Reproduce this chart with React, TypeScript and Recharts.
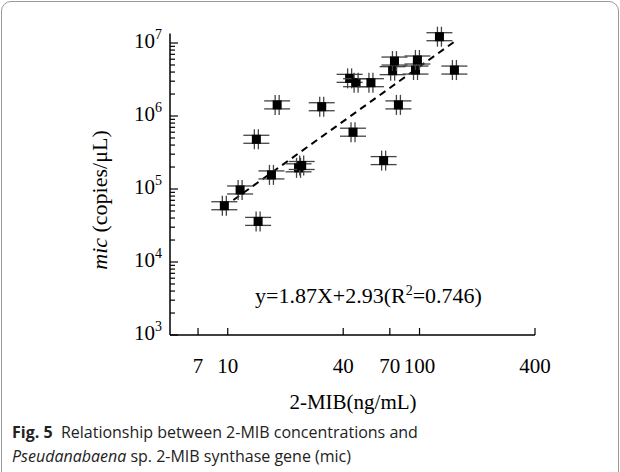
import React from 'react'
import { ScatterChart, Scatter, XAxis, YAxis } from 'recharts'

// 2-MIB concentration (ng/mL) vs mic gene copies per uL
const mibConc = [9.6, 11.6, 14.4, 14.1, 16.9, 18.1, 23.4, 24.3, 30.9, 43.2, 46.7, 55.8, 45, 65, 72.4, 74, 77.6, 95.3, 97.5, 127, 152]
const micCopies = [5.9e4, 9.7e4, 3.6e4, 4.8e5, 1.56e5, 1.42e6, 1.95e5, 2.1e5, 1.34e6, 3.28e6, 2.86e6, 2.86e6, 6.0e5, 2.45e5, 4.18e6, 5.66e6, 1.42e6, 4.26e6, 5.85e6, 1.22e7, 4.26e6]

// ends of the dashed fit line
const fitConc = [10.7, 154]
const fitCopies = [7.06e4, 1.07e7]

const xTicks = [7, 10, 40, 70, 100, 400]
const yMajor = [1e3, 1e4, 1e5, 1e6, 1e7]
const yTicks = [1e3, 1e4, 1e5, 1e6].flatMap((d) => [1, 2, 3, 4, 5, 6, 7, 8, 9].map((m) => m * d)).concat([1e7])

const points = mibConc.map((x, i) => ({ x, y: micCopies[i] }))
const fit = fitConc.map((x, i) => ({ x, y: fitCopies[i] }))

const SERIF = '"Liberation Serif", "DejaVu Serif", serif'
const SANS = '"Open Sans", "Noto Sans", sans-serif'

function Marker(props: any) {
  const { cx, cy } = props
  if (cx == null || cy == null) return <g />
  const g = '#444'
  return (
    <g>
      <line x1={cx - 13} x2={cx + 13} y1={cy - 4} y2={cy - 4} stroke={g} strokeWidth={1.3} />
      <line x1={cx - 13} x2={cx + 13} y1={cy + 4} y2={cy + 4} stroke={g} strokeWidth={1.3} />
      <line x1={cx - 2} x2={cx - 2} y1={cy - 10} y2={cy + 10} stroke={g} strokeWidth={1.3} />
      <line x1={cx + 2} x2={cx + 2} y1={cy - 10} y2={cy + 10} stroke={g} strokeWidth={1.3} />
      <rect x={cx - 4.5} y={cy - 4.5} width={9} height={9} fill="#000" />
    </g>
  )
}

function YTick(props: any) {
  const { x, y, payload } = props
  const v = payload.value
  const exp = Math.round(Math.log10(v))
  const major = yMajor.includes(v)
  return (
    <g>
      <line x1={x} x2={x + (major ? 8 : 5)} y1={y} y2={y} stroke="#000" strokeWidth={1.2} />
      {major && (
        <text x={x - 8} y={y + 5} textAnchor="end" fontFamily={SERIF} fontSize={21} fill="#000">
          10<tspan dy={-9} fontSize={14}>{exp}</tspan>
        </text>
      )}
    </g>
  )
}

function XTick(props: any) {
  const { x, y, payload } = props
  return (
    <g>
      <line x1={x} x2={x} y1={y} y2={y - 7} stroke="#000" strokeWidth={1.2} />
      <text x={x} y={y + 38} textAnchor="middle" fontFamily={SERIF} fontSize={21} fill="#000">
        {payload.value}
      </text>
    </g>
  )
}

export default function App() {
  return (
    <div style={{ position: 'absolute', left: 0, top: 0, width: 620, height: 472, overflow: 'hidden', background: '#fff' }}>
      <div style={{ position: 'absolute', left: 1, top: 1, width: 616, height: 490, border: '1px solid #999', borderRadius: 10 }} />
      <ScatterChart width={620} height={420} margin={{ top: 33.5, right: 85, bottom: 55, left: 110 }}>
        <XAxis
          type="number"
          dataKey="x"
          scale="log"
          domain={[5, 400]}
          ticks={xTicks}
          tick={<XTick />}
          tickLine={false}
          tickSize={0}
          tickMargin={0}
          height={30}
          axisLine={{ stroke: '#000', strokeWidth: 1.5 }}
        />
        <YAxis
          type="number"
          dataKey="y"
          scale="log"
          domain={[1e3, 1.35e7]}
          ticks={yTicks}
          interval={0}
          tick={<YTick />}
          tickLine={false}
          tickSize={0}
          tickMargin={0}
          width={60}
          axisLine={{ stroke: '#000', strokeWidth: 1.5 }}
        />
        <Scatter
          data={fit}
          line={{ stroke: '#000', strokeWidth: 2, strokeDasharray: '7 5' }}
          shape={() => <g />}
          isAnimationActive={false}
        />
        <Scatter data={points} shape={<Marker />} isAnimationActive={false} />
      </ScatterChart>
      <div style={{ position: 'absolute', left: 100, top: 200, transform: 'translate(-50%, -50%) rotate(-90deg)', fontFamily: SERIF, fontSize: 22, whiteSpace: 'nowrap' }}>
        <i>mic</i> (copies/μL)
      </div>
      <div style={{ position: 'absolute', left: 255, top: 283, fontFamily: SERIF, fontSize: 22, whiteSpace: 'nowrap', lineHeight: '26px' }}>
        y=1.87X+2.93(R<sup style={{ fontSize: 14, lineHeight: 0 }}>2</sup>=0.746)
      </div>
      <div style={{ position: 'absolute', left: 0, width: 706, top: 390, textAlign: 'center', fontFamily: SERIF, fontSize: 21, whiteSpace: 'nowrap' }}>
        2-MIB(ng/mL)
      </div>
      <div style={{ position: 'absolute', left: 12, top: 420, fontFamily: SANS, fontSize: 16, lineHeight: '24px', color: '#222' }}>
        <div><b>Fig. 5</b>&nbsp; Relationship between 2-MIB concentrations and</div>
        <div><i>Pseudanabaena</i> sp. 2-MIB synthase gene (mic)</div>
      </div>
    </div>
  )
}
